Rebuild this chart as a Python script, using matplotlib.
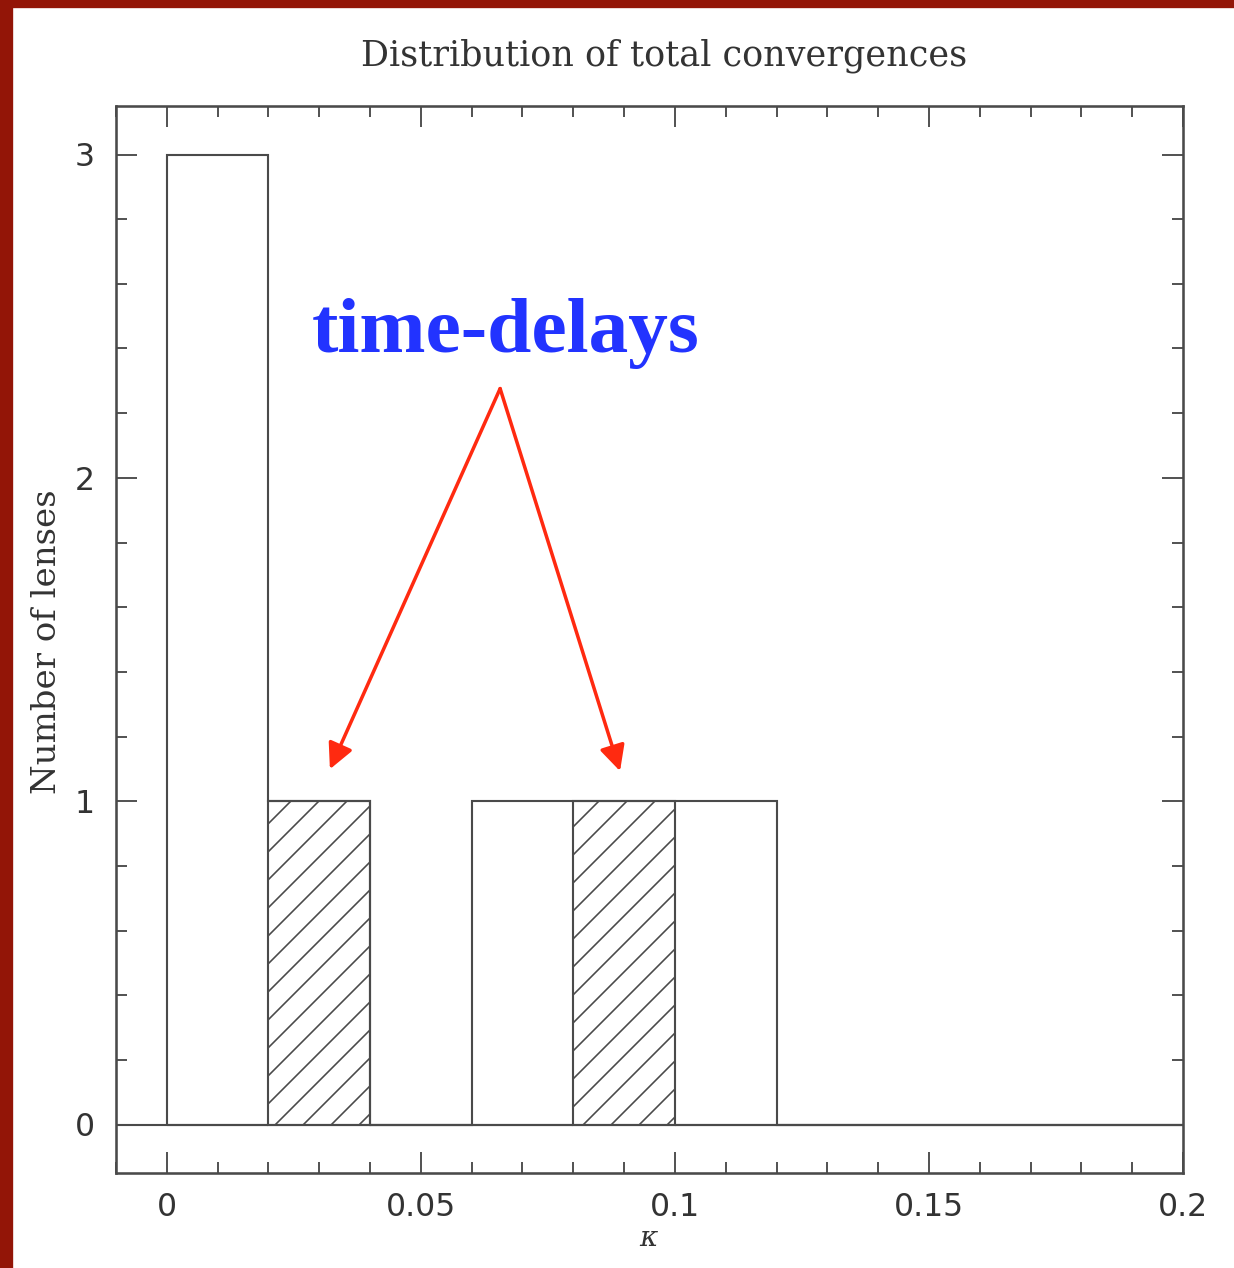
import numpy as np
import matplotlib
matplotlib.use("Agg")
from matplotlib import pyplot as plt
from matplotlib.patches import Rectangle

# histogram of total convergences (bin width 0.02)
kappa_edges = [0.0, 0.02, 0.04, 0.06, 0.08, 0.10, 0.12, 0.14, 0.16, 0.18, 0.20]
n_all = [3, 1, 0, 1, 1, 1, 0, 0, 0, 0]
n_timedelay = [0, 1, 0, 0, 1, 0, 0, 0, 0, 0]

x_ticks = [0, 0.05, 0.1, 0.15, 0.2]
x_ticklabels = ["0", "0.05", "0.1", "0.15", "0.2"]
y_ticks = [0, 1, 2, 3]

DPI = 168
W, H = 1234, 1268
line_col = "#4a4a4a"
text_col = "#333333"

plt.rcParams["hatch.linewidth"] = 0.7

fig = plt.figure(figsize=(W / DPI, H / DPI), dpi=DPI)
ax = fig.add_axes([116 / W, 1 - 1173 / H, (1183 - 116) / W, (1173 - 106) / H])

ax.axhline(0, color=line_col, lw=0.9, zorder=1)
ax.stairs(n_all, kappa_edges, color=line_col, lw=0.9, zorder=2)
w = np.diff(kappa_edges)
ax.bar(kappa_edges[:-1], n_timedelay, width=w, align="edge", fill=False,
       hatch="//", edgecolor=line_col, lw=0.9, zorder=3)

ax.set_xlim(-0.01, 0.2)
ax.set_ylim(-0.15, 3.15)
ax.set_xticks(x_ticks)
ax.set_xticklabels(x_ticklabels)
ax.set_xticks(np.arange(-0.01, 0.2001, 0.01), minor=True)
ax.set_yticks(y_ticks)
ax.set_yticks(np.arange(0, 3.01, 0.2), minor=True)

for s in ax.spines.values():
    s.set_linewidth(1.1)
    s.set_color(line_col)
ax.tick_params(which="both", direction="in", top=True, right=True,
               color=line_col, width=0.8)
ax.tick_params(which="major", length=9, labelsize=13.5, labelcolor=text_col)
ax.tick_params(which="minor", length=4.7)
ax.tick_params(axis="x", pad=8)
ax.tick_params(axis="y", pad=9)

fig.text(664 / W, 1 - 56 / H, "Distribution of total convergences",
         ha="center", va="center", fontsize=15, family="DejaVu Serif",
         color=text_col)
fig.text(47 / W, 1 - 642 / H, "Number of lenses", rotation=90,
         ha="center", va="center", fontsize=14.6, family="DejaVu Serif",
         color=text_col)
fig.text(648 / W, 1 - 1238 / H, "\u03ba", ha="center", va="center",
         fontsize=12, family="DejaVu Serif", style="italic", color=text_col)

# annotation
ax.text(0.0667, 2.39, "time-delays", ha="center", va="baseline",
        fontsize=34, fontweight="bold", family="Liberation Serif",
        color="#2233ff")
apex = (0.0656, 2.276)
for tip in [(0.0321, 1.099), (0.0892, 1.093)]:
    ax.annotate("", xy=tip, xytext=apex,
                arrowprops=dict(arrowstyle="-|>", color="#ff2a10", lw=1.5,
                                mutation_scale=23, shrinkA=0, shrinkB=0))

# dark red frame of the slide
fig.patches.append(Rectangle((0, 0), 12 / W, 1, transform=fig.transFigure,
                             color="#931507", zorder=10))
fig.patches.append(Rectangle((0, 1 - 7 / H), 1, 7 / H, transform=fig.transFigure,
                             color="#931507", zorder=10))

fig.savefig("out.png", dpi=DPI)
